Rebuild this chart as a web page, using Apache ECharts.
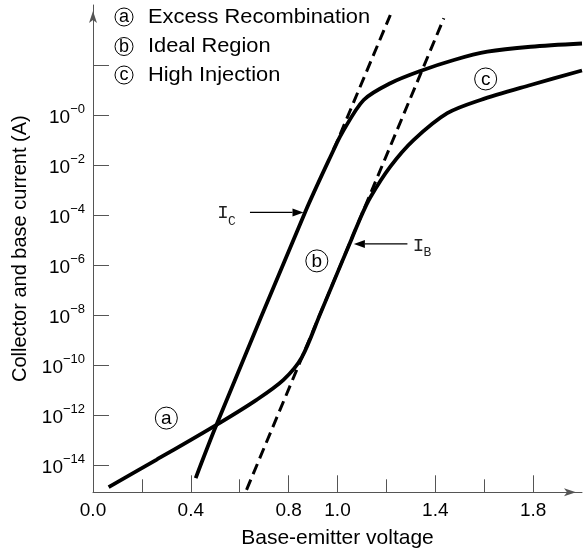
<!DOCTYPE html>
<html><head><meta charset="utf-8">
<script src="https://cdn.jsdelivr.net/npm/echarts@6/dist/echarts.min.js"></script>
<style>html,body{margin:0;padding:0;background:#fff}#c{width:583px;height:555px}</style>
</head><body><div id="c"></div>
<script>
// x: base-emitter voltage (V); y: log10 of current (A)
const icV   = [0.420, 0.505, 0.868, 0.984, 1.018, 1.107, 1.216, 1.339, 1.476, 1.613, 1.790, 2.000];
const icLog = [-14.53, -12.40, -3.88, -1.40, -0.73, 0.60, 1.27, 1.76, 2.20, 2.53, 2.73, 2.86];
const ibV   = [0.064, 0.259, 0.505, 0.669, 0.779, 0.854, 0.929, 0.970, 1.059, 1.100, 1.134, 1.216, 1.312, 1.449, 1.585, 1.790, 2.000];
const ibLog = [-14.89, -13.80, -12.40, -11.40, -10.60, -9.70, -7.97, -7.01, -4.93, -3.98, -3.30, -2.07, -1.00, 0.07, 0.60, 1.20, 1.78];
const icIdealV = [0.984, 1.216];
const icIdealLog = [-1.40, 4.00];
const ibIdealV = [0.628, 1.435];
const ibIdealLog = [-15.0, 3.87];
const xTicks = [0, 0.2, 0.4, 0.6, 0.8, 1.0, 1.2, 1.4, 1.6, 1.8];
const xLabels = [0, 0.4, 0.8, 1.0, 1.4, 1.8];
const yTicks = [-14, -12, -10, -8, -6, -4, -2, 0, 2];
const yLabels = [-14, -12, -10, -8, -6, -4, -2, 0];
const legendLetters = ['a', 'b', 'c'];
const legendTexts = ['Excess Recombination', 'Ideal Region', 'High Injection'];
const regionLetters = ['a', 'b', 'c'];
const regionV = [0.300, 0.9155, 1.606];
const regionLog = [-12.13, -5.84, 1.44];

const zip = (a, b) => a.map((v, i) => [v, b[i]]);
const FONT = '"Liberation Sans", Arial, Helvetica, sans-serif';
const MONO = '"Liberation Mono", "DejaVu Sans Mono", monospace';
const AX = '#555';

const chart = echarts.init(document.getElementById('c'), null, {renderer: 'canvas'});
const lineBase = {type: 'line', symbol: 'none', silent: true, animation: false, clip: true};

chart.setOption({
  animation: false,
  backgroundColor: '#fff',
  grid: {left: 93, right: 1, top: 5, bottom: 62.7, containLabel: false},
  xAxis: [{
    type: 'value', min: 0, max: 2.0,
    name: 'Base-emitter voltage', nameLocation: 'middle', nameGap: 35,
    nameTextStyle: {fontFamily: FONT, fontSize: 21, color: '#000'},
    axisLine: {show: true, onZero: false, lineStyle: {color: AX, width: 1}, symbol: ['none', 'arrow'], symbolSize: [6, 12], symbolOffset: [0, -6]},
    axisTick: {show: true, inside: true, length: 13, lineStyle: {color: AX}, customValues: xTicks},
    axisLabel: {show: true, margin: 9, fontFamily: FONT, fontSize: 19, color: '#000', customValues: xLabels,
      formatter: v => v.toFixed(1)},
    splitLine: {show: false}
  }, {
    type: 'value', min: 0, max: 2.0, position: 'bottom', offset: 0,
    axisLine: {show: false, onZero: false},
    axisTick: {show: true, inside: true, length: 17, lineStyle: {color: AX}, customValues: xLabels},
    axisLabel: {show: false},
    splitLine: {show: false}
  }],
  yAxis: {
    type: 'value', min: -15.1, max: 4.4,
    name: 'Collector and base current (A)', nameLocation: 'middle', nameGap: 63,
    nameTextStyle: {fontFamily: FONT, fontSize: 20, color: '#000'},
    axisLine: {show: true, onZero: false, lineStyle: {color: AX, width: 1}, symbol: ['none', 'arrow'], symbolSize: [6, 12], symbolOffset: [0, -6]},
    axisTick: {show: true, inside: true, length: 16, lineStyle: {color: AX}, customValues: yTicks},
    axisLabel: {show: true, margin: 8, customValues: yLabels,
      formatter: v => '{a|10}{b|\u2212' + Math.abs(v) + '}',
      rich: {
        a: {fontFamily: FONT, fontSize: 19, color: '#000', lineHeight: 24, verticalAlign: 'bottom'},
        b: {fontFamily: FONT, fontSize: 13, color: '#000', lineHeight: 24, verticalAlign: 'top'}
      }},
    splitLine: {show: false}
  },
  series: [
    Object.assign({}, lineBase, {name: 'IC ideal', data: zip(icIdealV, icIdealLog),
      lineStyle: {color: '#000', width: 3, type: [11, 6]}}),
    Object.assign({}, lineBase, {name: 'IB ideal', data: zip(ibIdealV, ibIdealLog),
      lineStyle: {color: '#000', width: 3, type: [11, 6]}}),
    Object.assign({}, lineBase, {name: 'IC', data: zip(icV, icLog), smooth: 0.3,
      lineStyle: {color: '#000', width: 3.8, cap: 'butt'}}),
    Object.assign({}, lineBase, {name: 'IB', data: zip(ibV, ibLog), smooth: 0.3,
      lineStyle: {color: '#000', width: 3.8, cap: 'butt'}})
  ]
});

// annotations
const P = p => chart.convertToPixel({gridIndex: 0}, p);
const g = [];
function circLetter(x, y, r, letter, fs) {
  g.push({type: 'circle', shape: {cx: x, cy: y, r: r}, style: {fill: '#fff', stroke: '#000', lineWidth: 1}, z: 100});
  g.push({type: 'text', x: x, y: y + 0.5, style: {text: letter, fontFamily: FONT, fontSize: fs, fill: '#000', align: 'center', verticalAlign: 'middle'}, z: 101});
}
function arrow(x1, y1, x2, y2) {
  const dx = x2 - x1, dy = y2 - y1, L = Math.hypot(dx, dy), ux = dx / L, uy = dy / L;
  const bx = x2 - ux * 11, by = y2 - uy * 11;
  g.push({type: 'line', shape: {x1: x1, y1: y1, x2: bx, y2: by}, style: {stroke: '#000', lineWidth: 1.2}, z: 100});
  g.push({type: 'polygon', shape: {points: [[x2, y2], [bx - uy * 4, by + ux * 4], [bx + uy * 4, by - ux * 4]]}, style: {fill: '#000'}, z: 100});
}
// legend
const legendY = [17, 46.5, 75];
legendLetters.forEach((l, i) => {
  circLetter(124, legendY[i], 9, l, 18);
  g.push({type: 'text', x: 148, y: legendY[i] + 0.5, scaleX: 1.12,
    style: {text: legendTexts[i], fontFamily: FONT, fontSize: 19.5, fill: '#000', align: 'left', verticalAlign: 'middle'}});
});
// region letters on plot
regionLetters.forEach((l, i) => {
  const p = P([regionV[i], regionLog[i]]);
  circLetter(p[0], p[1], 11, l, 19);
});
// IC label + arrow
const a1 = P([0.642, -3.9]), a2 = P([0.861, -3.9]);
arrow(a1[0], a1[1], a2[0], a2[1]);
g.push({type: 'text', x: a1[0] - 27, y: a1[1] + 1, style: {text: 'I', fontFamily: MONO, fontSize: 19, fill: '#222', align: 'center', verticalAlign: 'middle'}});
g.push({type: 'text', x: a1[0] - 18, y: a1[1] + 9, style: {text: 'C', fontFamily: MONO, fontSize: 13, fill: '#222', align: 'center', verticalAlign: 'middle'}});
// IB label + arrow
const b1 = P([1.286, -5.16]), b2 = P([1.067, -5.16]);
arrow(b1[0], b1[1], b2[0], b2[1]);
g.push({type: 'text', x: b1[0] + 11, y: b1[1] + 2, style: {text: 'I', fontFamily: MONO, fontSize: 19, fill: '#222', align: 'center', verticalAlign: 'middle'}});
g.push({type: 'text', x: b1[0] + 20, y: b1[1] + 9, style: {text: 'B', fontFamily: MONO, fontSize: 13, fill: '#222', align: 'center', verticalAlign: 'middle'}});

chart.setOption({graphic: {elements: g}});
</script>
</body></html>
